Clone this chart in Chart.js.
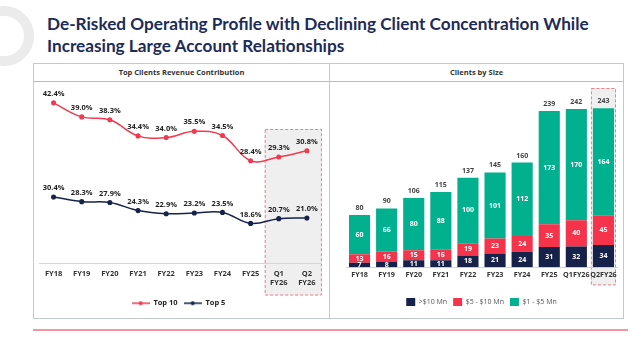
<!DOCTYPE html>
<html>
<head>
<meta charset="utf-8">
<script src="https://cdn.jsdelivr.net/npm/chart.js@4.4.0/dist/chart.umd.min.js"></script>
<style>
  body { margin: 0; background: #fff; font-family: "Open Sans", sans-serif; }
  #page { position: relative; width: 644px; height: 340px; overflow: hidden; }
  .deco { position: absolute; left: -26px; top: 6px; width: 40px; height: 40px; border: 10px solid #ebebeb; border-radius: 50%; }
  .title { position: absolute; left: 47px; top: 13px; font-family: Lato, sans-serif; font-weight: 700; font-size: 17.2px; line-height: 21.5px; color: #1d2b58; }
  .panel { position: absolute; left: 33px; top: 63px; width: 589px; height: 254px; border: 1px solid #c3c7cf; }
  .divider { position: absolute; left: 295px; top: 0; width: 1px; height: 254px; background: #c3c7cf; }
  .head { position: absolute; top: 0; height: 17px; line-height: 17px; border-bottom: 1px solid #f3a3ab; font-size: 7.5px; font-weight: 700; color: #333; text-align: center; }
  canvas { position: absolute; }
  .rule { position: absolute; left: 33px; top: 329px; width: 595px; height: 2px; background: #f2969f; }
</style>
</head>
<body>
<div id="page">
  <div class="deco"></div>
  <div class="title">De-Risked Operating Profile with Declining Client Concentration While<br>Increasing Large Account Relationships</div>
  <div class="panel">
    <div class="head" style="left:0;width:295px;">Top Clients Revenue Contribution</div>
    <div class="head" style="left:296px;width:293px;">Clients by Size</div>
    <div class="divider"></div>
  </div>
  <div style="position:absolute;left:34px;top:81px;width:294px;height:236px;"><canvas id="lineChart" width="294" height="236"></canvas></div>
  <div style="position:absolute;left:329px;top:81px;width:294px;height:236px;"><canvas id="barChart" width="294" height="236"></canvas></div>
  <div class="rule"></div>
</div>
<script>
// data
const periods = ["FY18", "FY19", "FY20", "FY21", "FY22", "FY23", "FY24", "FY25", ["Q1", "FY26"], ["Q2", "FY26"]];
const top10 = [42.4, 39.0, 38.3, 34.4, 34.0, 35.5, 34.5, 28.4, 29.3, 30.8];
const top5 = [30.4, 28.3, 27.9, 24.3, 22.9, 23.2, 23.5, 18.6, 20.7, 21.0];

const sizePeriods = ["FY18", "FY19", "FY20", "FY21", "FY22", "FY23", "FY24", "FY25", "Q1FY26", "Q2FY26"];
const over10 = [7, 8, 11, 11, 18, 21, 24, 31, 32, 34];
const from5to10 = [13, 16, 15, 16, 19, 23, 24, 35, 40, 45];
const from1to5 = [60, 66, 80, 88, 100, 101, 112, 173, 170, 164];
const totals = [80, 90, 106, 115, 137, 145, 160, 239, 242, 243];

const RED = "#ef3b4f";
const NAVY = "#16224a";
const GREEN = "#00b08e";
const BAR_RED = "#f5334b";

// little line+dot swatch for the left legend
function lineSwatch(color) {
  const c = document.createElement("canvas");
  c.width = 18; c.height = 6;
  const g = c.getContext("2d");
  g.strokeStyle = color; g.lineWidth = 1.5;
  g.beginPath(); g.moveTo(0, 3); g.lineTo(18, 3); g.stroke();
  g.fillStyle = color;
  g.beginPath(); g.arc(9, 3, 2, 0, Math.PI * 2); g.fill();
  return c;
}

function dashedBox(ctx, x1, y1, x2, y2) {
  ctx.save();
  ctx.fillStyle = "#efefef";
  ctx.fillRect(x1, y1, x2 - x1, y2 - y1);
  ctx.setLineDash([3, 2]);
  ctx.strokeStyle = "#ef7d8a";
  ctx.lineWidth = 1;
  ctx.strokeRect(x1 + 0.5, y1 + 0.5, x2 - x1 - 1, y2 - y1 - 1);
  ctx.restore();
}

// grey dashed highlight box behind the latest quarters (drawn before the axes)
const highlightLeft = {
  id: "highlightLeft",
  beforeDraw(chart) {
    const { chartArea, scales } = chart;
    const x1 = scales.x.getPixelForValue(7.5);
    const x2 = scales.x.getPixelForValue(9) + 15;
    dashedBox(chart.ctx, x1, chartArea.top + 41, x2, chartArea.bottom + 32);
  }
};

const highlightRight = {
  id: "highlightRight",
  beforeDraw(chart) {
    const { chartArea, scales } = chart;
    const x1 = scales.x.getPixelForValue(8.5) + 1;
    const x2 = scales.x.getPixelForValue(9.5) - 1;
    dashedBox(chart.ctx, x1, chartArea.top, x2, chartArea.bottom + 18);
  }
};

// value labels (no datalabels plugin available)
const lineLabels = {
  id: "lineLabels",
  afterDatasetsDraw(chart) {
    const { ctx } = chart;
    ctx.save();
    ctx.font = "bold 7.5px 'Open Sans'";
    ctx.fillStyle = "#222";
    ctx.textAlign = "center";
    ctx.textBaseline = "middle";
    chart.data.datasets.forEach((ds, i) => {
      chart.getDatasetMeta(i).data.forEach((pt, j) => {
        ctx.fillText(ds.data[j].toFixed(1) + "%", pt.x, pt.y - 9);
      });
    });
    ctx.restore();
  }
};

const barLabels = {
  id: "barLabels",
  afterDatasetsDraw(chart) {
    const { ctx } = chart;
    ctx.save();
    ctx.font = "bold 7px 'Open Sans'";
    ctx.textAlign = "center";
    ctx.textBaseline = "middle";
    ctx.fillStyle = "#fff";
    chart.data.datasets.forEach((ds, i) => {
      chart.getDatasetMeta(i).data.forEach((bar, j) => {
        ctx.fillText(ds.data[j], bar.x, (bar.y + bar.base) / 2);
      });
    });
    const topMeta = chart.getDatasetMeta(chart.data.datasets.length - 1);
    ctx.fillStyle = "#444";
    topMeta.data.forEach((bar, j) => {
      ctx.fillText(totals[j], bar.x, bar.y - 7);
    });
    ctx.restore();
  }
};

Chart.defaults.font.family = "'Open Sans', sans-serif";
Chart.defaults.animation = false;

new Chart(document.getElementById("lineChart"), {
  type: "line",
  data: {
    labels: periods,
    datasets: [
      { label: "Top 10", data: top10, yAxisID: "y", borderColor: RED, backgroundColor: RED, borderWidth: 1.5, pointRadius: 1.8, tension: 0.4 },
      { label: "Top 5", data: top5, yAxisID: "y1", borderColor: NAVY, backgroundColor: NAVY, borderWidth: 1.5, pointRadius: 1.8, tension: 0.4 },
    ],
  },
  options: {
    responsive: false,
    layout: { padding: { left: 2, right: 7, top: 7, bottom: 0 } },
    scales: {
      x: {
        offset: true,
        grid: { display: false, drawTicks: false },
        border: { color: "#d6d6d6" },
        ticks: { font: { size: 7.5, weight: "bold" }, color: "#333", padding: 6, maxRotation: 0, autoSkip: false },
      },
      y: { display: false, min: 3.5, max: 46 },
      y1: { display: false, min: 0.7, max: 79 },
    },
    plugins: {
      tooltip: { enabled: false },
      legend: {
        position: "bottom",
        labels: {
          usePointStyle: true,
          pointStyleWidth: 18,
          boxHeight: 6,
          padding: 6,
          font: { size: 7.5, weight: "bold" },
          color: "#222",
          generateLabels: (chart) => chart.data.datasets.map((ds, i) => ({
            text: ds.label,
            pointStyle: lineSwatch(ds.borderColor),
            fillStyle: ds.borderColor,
            strokeStyle: ds.borderColor,
            lineWidth: 0,
            fontColor: "#222",
            datasetIndex: i,
          })),
        },
      },
    },
  },
  plugins: [highlightLeft, lineLabels],
});

new Chart(document.getElementById("barChart"), {
  type: "bar",
  data: {
    labels: sizePeriods,
    datasets: [
      { label: ">$10 Mn", data: over10, backgroundColor: NAVY },
      { label: "$5 - $10 Mn", data: from5to10, backgroundColor: BAR_RED },
      { label: "$1 - $5 Mn", data: from1to5, backgroundColor: GREEN },
    ],
  },
  options: {
    responsive: false,
    layout: { padding: { left: 17, right: 6, top: 7, bottom: 1 } },
    datasets: { bar: { categoryPercentage: 0.78, barPercentage: 1 } },
    scales: {
      x: {
        stacked: true,
        grid: { display: false, drawTicks: false },
        border: { color: "#d6d6d6" },
        ticks: { font: { size: 7.2, weight: "bold" }, color: "#333", padding: 3, maxRotation: 0, autoSkip: false },
        afterFit: (scale) => { scale.height += 10; },
      },
      y: { stacked: true, display: false, min: 0, max: 274 },
    },
    plugins: {
      tooltip: { enabled: false },
      legend: {
        position: "bottom",
        labels: { boxWidth: 9, boxHeight: 8, padding: 6, font: { size: 7 }, color: "#555" },
      },
    },
  },
  plugins: [highlightRight, barLabels],
});
</script>
</body>
</html>
